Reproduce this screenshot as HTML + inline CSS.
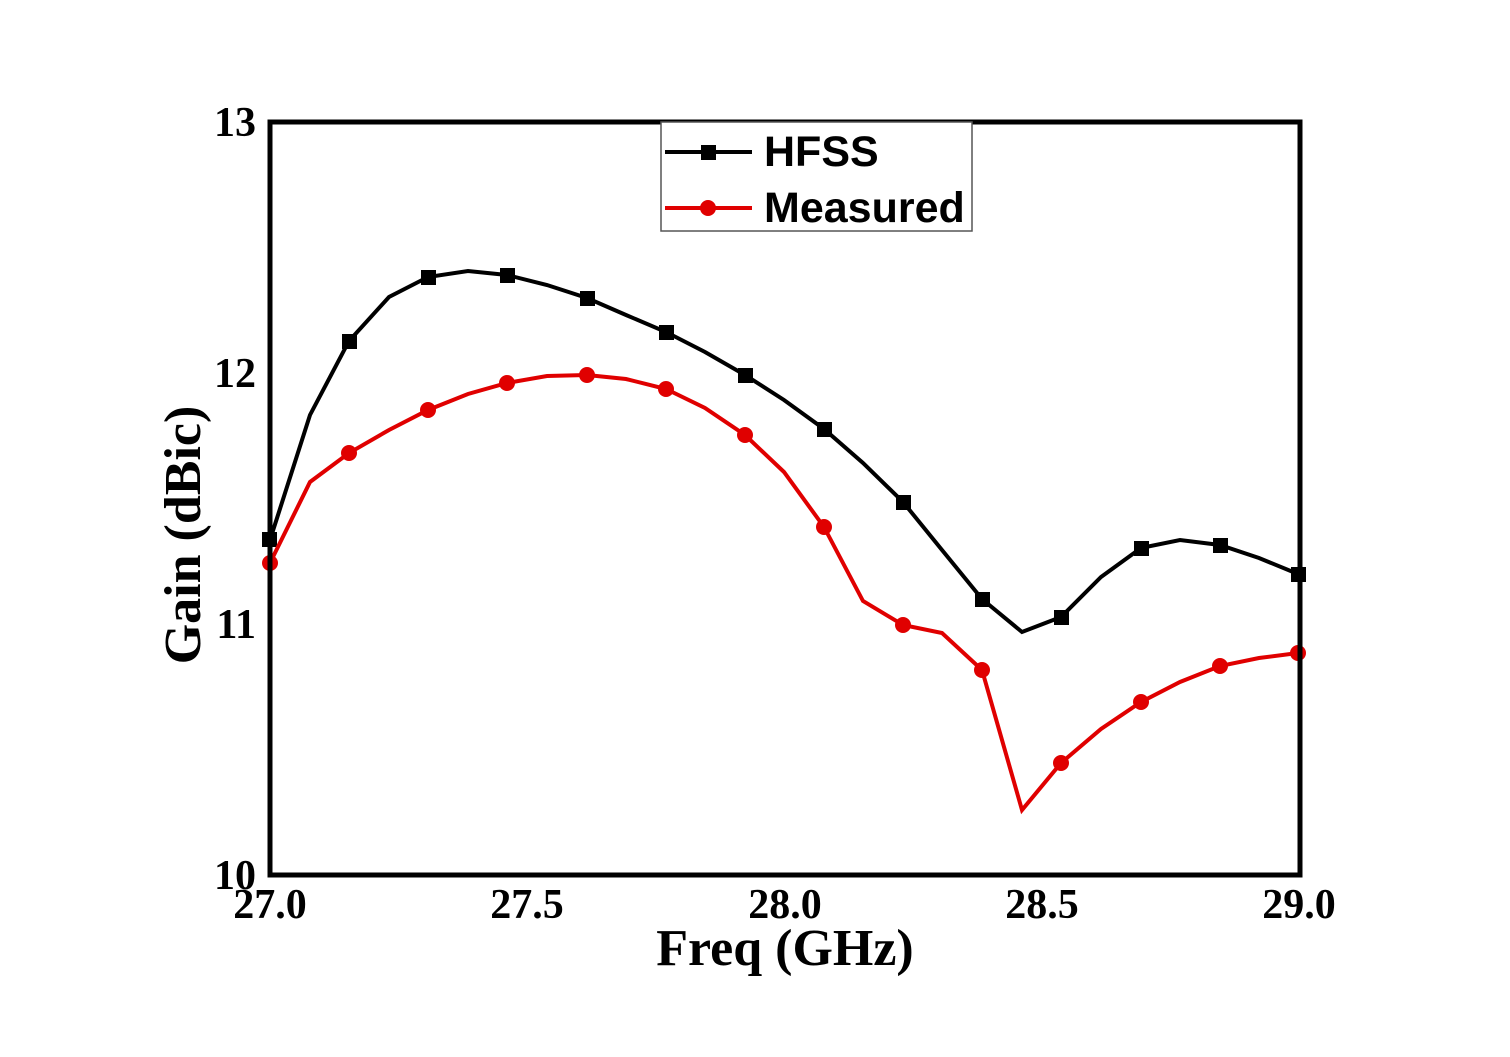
<!DOCTYPE html>
<html><head><meta charset="utf-8"><style>body{margin:0;background:#fff}</style></head>
<body>
<svg width="1510" height="1052" xmlns="http://www.w3.org/2000/svg">
<rect width="1510" height="1052" fill="#fff"/>
<g font-family="Liberation Serif, serif" font-weight="bold" font-size="42" fill="#000">
<text x="256" y="136" text-anchor="end">13</text>
<text x="256" y="387" text-anchor="end">12</text>
<text x="256" y="638" text-anchor="end">11</text>
<text x="256" y="889" text-anchor="end">10</text>
<text x="270" y="918" text-anchor="middle">27.0</text>
<text x="527" y="918" text-anchor="middle">27.5</text>
<text x="785" y="918" text-anchor="middle">28.0</text>
<text x="1042" y="918" text-anchor="middle">28.5</text>
<text x="1299" y="918" text-anchor="middle">29.0</text>
<text x="785" y="965" text-anchor="middle" font-size="52">Freq (GHz)</text>
<text transform="translate(200,535) rotate(-90)" text-anchor="middle" font-size="52">Gain (dBic)</text>
</g>
<polyline fill="none" stroke="#000" stroke-width="4" points="270,540 310,415 349,341 389,297 428,277 468,271 507,275 547,285 587,298 626,315 666,332 705,352 745,375 784,400 824,429 863,463 903,502 942,550 982,599 1022,632 1061,617 1101,577 1141,548 1180,540 1220,545 1259,558 1298,574"/>
<g fill="#000">
<rect x="262" y="532" width="15" height="15"/>
<rect x="342" y="334" width="15" height="15"/><rect x="421" y="270" width="15" height="15"/><rect x="500" y="268" width="15" height="15"/><rect x="580" y="291" width="15" height="15"/><rect x="659" y="325" width="15" height="15"/><rect x="738" y="368" width="15" height="15"/><rect x="817" y="422" width="15" height="15"/><rect x="896" y="495" width="15" height="15"/><rect x="975" y="592" width="15" height="15"/><rect x="1054" y="610" width="15" height="15"/><rect x="1134" y="541" width="15" height="15"/><rect x="1213" y="538" width="15" height="15"/><rect x="1291" y="567" width="15" height="15"/>
</g>
<polyline fill="none" stroke="#e00000" stroke-width="4" points="270,563 310,482 349,453 389,430 428,410 468,394 507,383 547,376 587,375 626,379 666,389 705,408 745,435 784,472 824,527 863,601 903,625 942,633 982,670 1022,810 1061,763 1101,729 1141,702 1180,682 1220,666 1259,658 1298,653"/>
<g fill="#e00000">
<circle cx="270" cy="563" r="8"/><circle cx="349" cy="453" r="8"/><circle cx="428" cy="410" r="8"/><circle cx="507" cy="383" r="8"/><circle cx="587" cy="375" r="8"/><circle cx="666" cy="389" r="8"/><circle cx="745" cy="435" r="8"/><circle cx="824" cy="527" r="8"/><circle cx="903" cy="625" r="8"/><circle cx="982" cy="670" r="8"/><circle cx="1061" cy="763" r="8"/><circle cx="1141" cy="702" r="8"/><circle cx="1220" cy="666" r="8"/><circle cx="1298" cy="653" r="8"/>
</g>
<rect x="270" y="122" width="1030" height="753" fill="none" stroke="#000" stroke-width="5"/>
<rect x="661" y="122" width="311" height="109" fill="#fff" stroke="#555" stroke-width="1.5"/>
<line x1="665" y1="152" x2="752" y2="152" stroke="#000" stroke-width="4"/>
<rect x="701" y="145" width="15" height="15" fill="#000"/>
<line x1="665" y1="208" x2="752" y2="208" stroke="#e00000" stroke-width="4"/>
<circle cx="708" cy="208" r="8" fill="#e00000"/>
<g font-family="Liberation Sans, sans-serif" font-weight="bold" font-size="43" fill="#000">
<text x="764" y="166">HFSS</text>
<text x="764" y="222">Measured</text>
</g>
</svg>
</body></html>
